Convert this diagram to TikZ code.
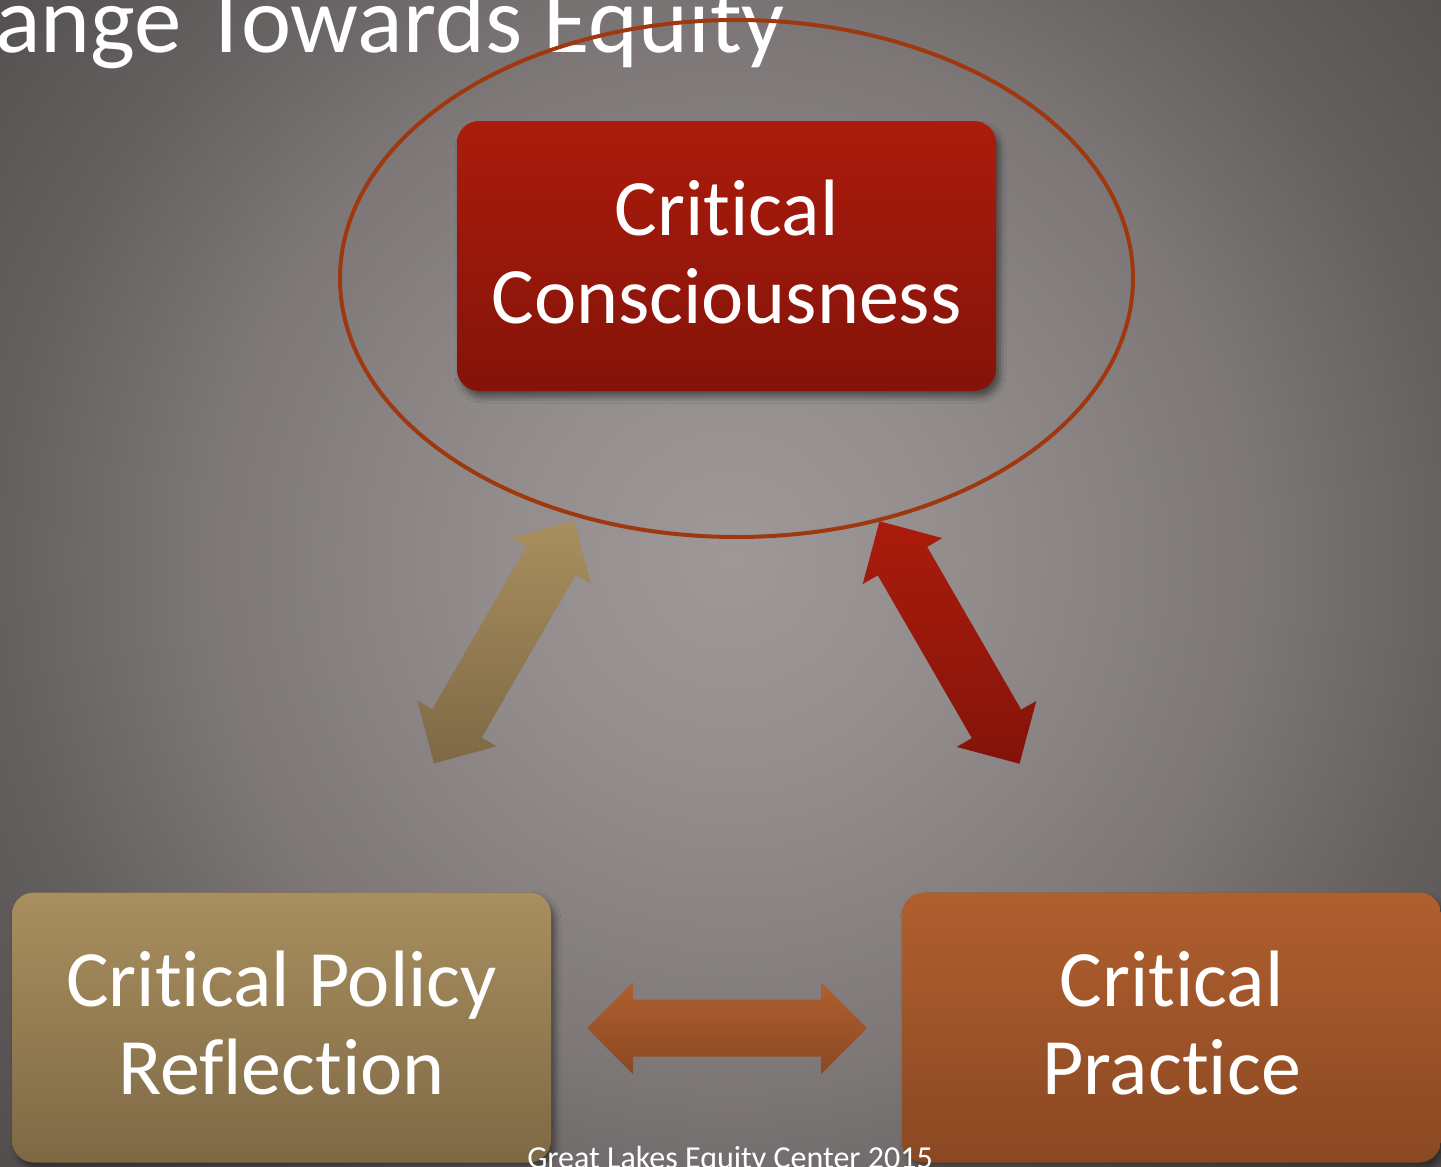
\documentclass[tikz,border=0pt]{standalone}
\usepackage{fontspec}
\setmainfont{Carlito}[Ligatures=NoCommon, RawFeature={-liga;-clig;-calt}]
\usetikzlibrary{shadows.blur}

% slide background (TikZ maps 25bp of a radial shading to the path's edge)
\definecolor{bgCore}{HTML}{9E9898}
\definecolor{bgInner}{HTML}{928C8C}
\definecolor{bgMid}{HTML}{7D7777}
\definecolor{bgEdge}{HTML}{666161}
\definecolor{bgCorner}{HTML}{4F4A4A}
\pgfdeclareradialshading{slideglow}{\pgfpoint{0bp}{0bp}}{%
  color(0bp)=(bgCore); color(6bp)=(bgInner); color(13bp)=(bgMid);
  color(18bp)=(bgEdge); color(25bp)=(bgCorner); color(50bp)=(bgCorner)}

% box and arrow fills
\definecolor{ccTop}{HTML}{AB1C0C}
\definecolor{ccBot}{HTML}{84130A}
\definecolor{polTop}{HTML}{A98F5F}
\definecolor{polBot}{HTML}{7E6945}
\definecolor{prTop}{HTML}{B05F2F}
\definecolor{prBot}{HTML}{8A4822}
\definecolor{ringCol}{HTML}{A0380F}

% extra depth so the two text lines sit centred in their box
\newcommand\lowpad{\rule[-9pt]{0pt}{9pt}}

\begin{document}
\begin{tikzpicture}[x=1pt,y=-1pt,
  softshadow/.style={blur shadow={shadow xshift=4pt, shadow yshift=-6pt,
      shadow blur radius=6pt, shadow opacity=45}},
  box/.style={rounded corners=22pt, minimum width=539pt, minimum height=270pt,
      inner sep=0pt, text=white, align=center,
      font=\fontsize{80}{88}\selectfont, softshadow},
  ring/.style={draw=ringCol, line width=4pt},
  heading/.style={text=white, inner sep=0pt, font=\fontsize{95}{100}\selectfont},
  credit/.style={text=white, inner sep=0pt, font=\fontsize{32}{36}\selectfont},
  dblarrow/.pic={
    \path[pic actions] (-140,0) -- (-94,-46) -- (-94,-28.5) -- (94,-28.5)
      -- (94,-46) -- (140,0) -- (94,46) -- (94,28.5) -- (-94,28.5)
      -- (-94,46) -- cycle;
  }]
\useasboundingbox (0,0) rectangle (1441,1167);

% background glow
\begin{scope}
  \clip (0,0) rectangle (1441,1167);
  \fill[bgCorner] (0,0) rectangle (1441,1167);
  \shade[shading=slideglow] (730,560) circle [radius=1000];
\end{scope}

% title line
\node[heading, anchor=base west] (heading) at (-5,52) {ange Towards Equity};

% the three stages
\node[box, top color=ccTop, bottom color=ccBot] (cc) at (726.5,256)
  {Critical\\Consciousness\lowpad};
\node[box, top color=polTop, bottom color=polBot] (pol) at (281.5,1027.5)
  {Critical Policy\\Reflection\lowpad};
\node[box, top color=prTop, bottom color=prBot] (pr) at (1171.5,1027.5)
  {Critical\\Practice\lowpad};

% ring round the first stage
\draw[ring] (736.5,278.5) ellipse [x radius=396.5, y radius=258.5];

% two-way block arrows between the stages
\pic[top color=polTop, bottom color=polBot, softshadow, rotate=60] (polcc) at (504,642) {dblarrow};
\pic[top color=ccTop, bottom color=ccBot, softshadow, rotate=-60] (ccpr) at (949.5,642.5) {dblarrow};
\pic[top color=prTop, bottom color=prBot, softshadow] (polpr) at (727,1028) {dblarrow};

% footer
\node[credit, anchor=base] (footer) at (730,1168) {Great Lakes Equity Center 2015};
\end{tikzpicture}
\end{document}
